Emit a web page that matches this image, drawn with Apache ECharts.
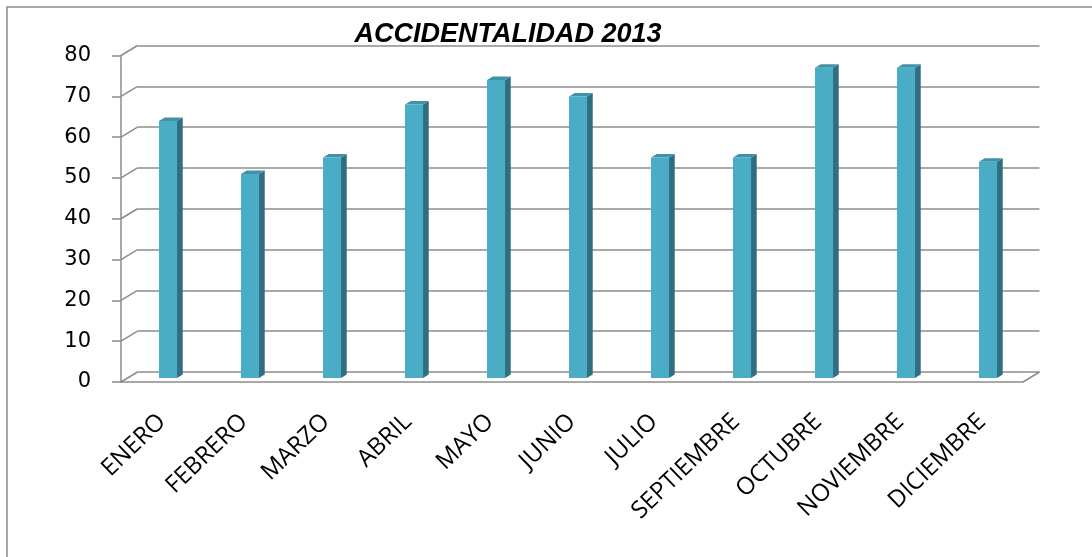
<!DOCTYPE html>
<html>
<head>
<meta charset="utf-8">
<script src="https://cdn.jsdelivr.net/npm/echarts@6/dist/echarts.min.js"></script>
<style>
  html, body { margin: 0; padding: 0; background: #fff; }
  #main { width: 1092px; height: 557px; }
</style>
</head>
<body>
<div id="main"></div>
<script>
// datos del grafico
var meses = ['ENERO', 'FEBRERO', 'MARZO', 'ABRIL', 'MAYO', 'JUNIO', 'JULIO', 'SEPTIEMBRE', 'OCTUBRE', 'NOVIEMBRE', 'DICIEMBRE'];
var accidentes = [63, 50, 54, 67, 73, 69, 54, 54, 76, 76, 53];
var yTicks = [0, 10, 20, 30, 40, 50, 60, 70, 80];

var ec = echarts.init(document.getElementById('main'));

// profundidad del "3D" (pared del fondo respecto al eje frontal)
var DX = 16.5, DY = -10;
var gridColor = '#8c8c8c';

var option = {
  animation: false,
  title: {
    text: 'ACCIDENTALIDAD 2013',
    left: 503,
    top: 16,
    textAlign: 'center',
    textStyle: { fontFamily: 'Liberation Sans', fontStyle: 'italic', fontWeight: 'bold', fontSize: 27, color: '#000' }
  },
  graphic: [{
    type: 'rect',
    shape: { x: 7, y: 7, width: 1200, height: 700 },
    style: { fill: null, stroke: gridColor, lineWidth: 1.5 },
    silent: true, z: -10
  }],
  grid: [
    // pared del fondo
    { left: 121 + DX, top: 55.5 + DY, width: 902, height: 326.5 },
    // plano frontal (ejes)
    { left: 121, top: 55.5, width: 902, height: 326.5 }
  ],
  xAxis: [
    { gridIndex: 0, type: 'category', data: meses, show: false },
    {
      gridIndex: 1, type: 'category', data: meses,
      axisLine: { lineStyle: { color: gridColor, width: 1.5 } },
      axisTick: { length: 7, lineStyle: { color: gridColor, width: 1.5 } },
      axisLabel: { rotate: 44, margin: 36, color: '#000', fontFamily: 'Open Sans', fontSize: 24, interval: 0 }
    }
  ],
  yAxis: [
    {
      gridIndex: 0, type: 'value', min: 0, max: 80, interval: 10,
      axisLine: { show: false }, axisTick: { show: false }, axisLabel: { show: false },
      splitLine: { lineStyle: { color: gridColor, width: 1.5 } }
    },
    {
      gridIndex: 1, type: 'value', min: 0, max: 80, interval: 10,
      axisLine: { show: true, lineStyle: { color: gridColor, width: 1.5 } },
      axisTick: { show: true, length: 9, lineStyle: { color: gridColor, width: 1.5 } },
      axisLabel: { margin: 30, color: '#000', fontFamily: 'DejaVu Sans', fontSize: 21 },
      splitLine: { show: false }
    }
  ],
  series: [
    {
      // diagonales que unen el eje frontal con la pared del fondo
      type: 'custom',
      xAxisIndex: 1, yAxisIndex: 1,
      data: yTicks,
      silent: true,
      renderItem: function (params, api) {
        var cs = params.coordSys;
        var y = api.coord([0, api.value(0)])[1];
        var children = [{
          type: 'line',
          shape: { x1: cs.x, y1: y, x2: cs.x + DX, y2: y + DY },
          style: { stroke: gridColor, lineWidth: 1.5 }
        }];
        if (api.value(0) === 0) {
          children.push({
            type: 'line',
            shape: { x1: cs.x + cs.width, y1: y, x2: cs.x + cs.width + DX, y2: y + DY },
            style: { stroke: gridColor, lineWidth: 1.5 }
          });
        }
        return { type: 'group', children: children };
      },
      encode: { y: 0 }
    },
    {
      // barras 3D
      type: 'custom',
      xAxisIndex: 1, yAxisIndex: 1,
      data: accidentes.map(function (v, i) { return [i, v]; }),
      renderItem: function (params, api) {
        var base = api.coord([api.value(0), 0]);
        var top = api.coord([api.value(0), api.value(1)]);
        var w = api.size([1, 0])[0] * 0.22;
        var ox = 6, oy = -4;       // desplazamiento de la cara frontal
        var sx = 5.7, sy = -3.5;   // profundidad de la barra
        var x0 = base[0] - w / 2 + ox, x1 = x0 + w;
        var yb = base[1] + oy, yt = top[1] + oy;
        return {
          type: 'group',
          children: [
            {
              type: 'polygon',
              shape: { points: [[x1, yb], [x1 + sx, yb + sy], [x1 + sx, yt + sy], [x1, yt]] },
              style: { fill: '#2f6e80' }
            },
            {
              type: 'polygon',
              shape: { points: [[x0, yt], [x1, yt], [x1 + sx, yt + sy], [x0 + sx, yt + sy]] },
              style: { fill: '#3f93a8' }
            },
            {
              type: 'rect',
              shape: { x: x0, y: yt, width: w, height: yb - yt },
              style: { fill: '#4bacc6' }
            }
          ]
        };
      },
      encode: { x: 0, y: 1 }
    }
  ]
};

ec.setOption(option);
</script>
</body>
</html>
